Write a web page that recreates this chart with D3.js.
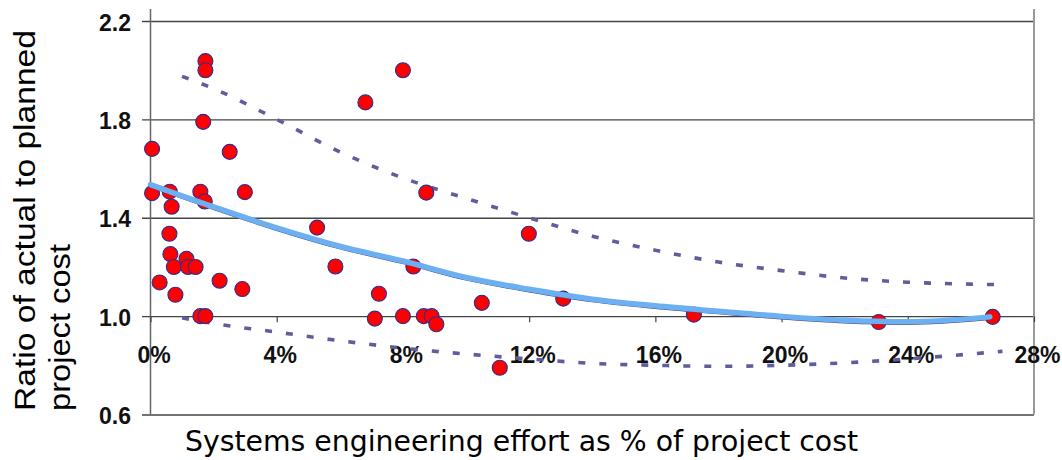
<!DOCTYPE html>
<html>
<head>
<meta charset="utf-8">
<script src="https://cdn.jsdelivr.net/npm/d3@7"></script>
<style>
  html, body { margin: 0; padding: 0; background: #fff; }
  svg { display: block; }
</style>
</head>
<body>
<svg id="chart" width="1062" height="460"></svg>
<script>
// Project samples: systems engineering effort (% of cost) vs. actual/planned cost ratio
const seEffort = [0.05, 0.05, 0.61, 1.58, 1.72, 2.99, 0.67, 0.60, 0.63, 1.14, 0.74, 1.19, 1.43, 0.29,
  2.19, 2.91, 0.79, 1.58, 1.74, 1.74, 1.74, 1.67, 2.51, 5.28, 5.86, 6.81, 8.0, 8.74, 11.99, 8.33,
  7.24, 10.5, 13.08, 7.11, 8.0, 8.66, 8.91, 9.06, 11.07, 17.22, 23.08, 26.69];
const costRatio = [1.68, 1.50, 1.506, 1.506, 1.466, 1.504, 1.445, 1.335, 1.252, 1.233, 1.20, 1.20, 1.20, 1.137,
  1.144, 1.11, 1.087, 1.0, 1.0, 2.037, 2.0, 1.79, 1.668, 1.36, 1.202, 1.869, 2.0, 1.502, 1.335, 1.202,
  1.091, 1.054, 1.071, 0.99, 1.0, 1.0, 1.0, 0.967, 0.79, 1.006, 0.976, 0.997];

// Fitted trend
const trendX = [0, 2, 4, 6, 8, 10, 12, 14, 16, 18, 20, 22, 24, 26.6];
const trendY = [1.535, 1.444, 1.359, 1.284, 1.224, 1.157, 1.109, 1.069, 1.042, 1.02, 0.999, 0.983, 0.977, 0.997];

// Upper and lower bounds
const upperX = [1, 2, 4, 6, 8, 10, 12, 14, 16, 18, 20, 22, 24, 26, 27];
const upperY = [1.975, 1.925, 1.80, 1.668, 1.562, 1.479, 1.40, 1.325, 1.268, 1.22, 1.185, 1.155, 1.138, 1.13, 1.128];
const lowerX = [1, 2, 4, 6, 8, 10, 12, 14, 16, 18, 20, 22, 24, 26, 27];
const lowerY = [0.993, 0.97, 0.935, 0.90, 0.87, 0.846, 0.826, 0.808, 0.80, 0.796, 0.80, 0.81, 0.826, 0.846, 0.857];

const xTicks = [0, 4, 8, 12, 16, 20, 24, 28];
const yTicks = [0.6, 1.0, 1.4, 1.8, 2.2];

const xTitle = "Systems engineering effort as % of project cost";
const yTitleLines = ["Ratio of actual to planned", "project cost"];

const svg = d3.select("#chart");
const x = d3.scaleLinear().domain([0, 28]).range([150.5, 1034]);
const y = d3.scaleLinear().domain([0.6, 2.2]).range([414.5, 21]);

const tickFont = "'Liberation Sans', Arial, sans-serif";

// Horizontal gridlines with short outer ticks and value labels
const yAxis = svg.append("g")
  .attr("transform", "translate(142,0)")
  .call(d3.axisLeft(y).tickValues(yTicks).tickFormat(d3.format(".1f"))
    .tickSizeInner(-(x.range()[1] - 142)).tickSizeOuter(0).tickPadding(11));
yAxis.select(".domain").remove();
yAxis.selectAll(".tick line").attr("stroke", "#444").attr("stroke-width", 1.4);
yAxis.selectAll(".tick text")
  .attr("font-family", tickFont).attr("font-weight", "bold")
  .attr("font-size", 23).attr("fill", "#111").attr("dy", "0.4em");

// Left axis line and right border
svg.append("line").attr("x1", x(0)).attr("x2", x(0)).attr("y1", 9).attr("y2", y(0.6))
  .attr("stroke", "#666").attr("stroke-width", 1.5);
svg.append("line").attr("x1", x(28)).attr("x2", x(28)).attr("y1", 9).attr("y2", y(0.6))
  .attr("stroke", "#999").attr("stroke-width", 2);

// X axis crossing at 1.0
const xAxis = svg.append("g")
  .attr("transform", `translate(0,${y(1.0)})`)
  .call(d3.axisBottom(x).tickValues(xTicks).tickFormat(d => d + "%")
    .tickSizeInner(6).tickSizeOuter(0).tickPadding(25));
xAxis.select(".domain").remove();
xAxis.selectAll(".tick line").attr("stroke", "#444").attr("stroke-width", 1.2);
xAxis.selectAll(".tick text")
  .attr("font-family", tickFont).attr("font-weight", "bold")
  .attr("font-size", 23).attr("fill", "#111").attr("dx", 3);

// Dashed bound curves
const line = d3.line().x(d => x(d[0])).y(d => y(d[1])).curve(d3.curveMonotoneX);
const bounds = [d3.zip(upperX, upperY), d3.zip(lowerX, lowerY)];
svg.append("g").selectAll("path").data(bounds).join("path")
  .attr("d", line)
  .attr("fill", "none")
  .attr("stroke", "#5e5e9a")
  .attr("stroke-width", 3.6)
  .attr("stroke-dasharray", "7,14");

// Sample points
svg.append("g").selectAll("circle").data(d3.zip(seEffort, costRatio)).join("circle")
  .attr("cx", d => x(d[0]))
  .attr("cy", d => y(d[1]))
  .attr("r", 7.5)
  .attr("fill", "#ff0000")
  .attr("stroke", "#2e2e90")
  .attr("stroke-width", 1.1);

// Trend line: dark fit with light blue overlay
const trend = d3.zip(trendX, trendY);
svg.append("path").datum(trend)
  .attr("d", line).attr("fill", "none")
  .attr("stroke", "#454585").attr("stroke-width", 2.2)
  .attr("transform", "translate(0,2)");
svg.append("path").datum(trend)
  .attr("d", line).attr("fill", "none")
  .attr("stroke", "#6cb0f2").attr("stroke-width", 5.5)
  .attr("stroke-linecap", "round");

// Axis titles
svg.append("text")
  .attr("x", 185).attr("y", 451)
  .attr("font-family", "'DejaVu Sans', Tahoma, sans-serif")
  .attr("font-size", 27.5).attr("fill", "#000")
  .attr("textLength", 673).attr("lengthAdjust", "spacingAndGlyphs")
  .text(xTitle);

const yTitle = svg.append("g").attr("transform", "translate(0,411) rotate(-90)");
const yTitleLengths = [381, 167];
yTitle.selectAll("text").data(yTitleLines).join("text")
  .attr("x", 0)
  .attr("y", (d, i) => 35 + i * 35)
  .attr("font-family", "'Liberation Sans', Arial, sans-serif")
  .attr("font-size", 30).attr("fill", "#000")
  .attr("textLength", (d, i) => yTitleLengths[i]).attr("lengthAdjust", "spacingAndGlyphs")
  .text(d => d);
</script>
</body>
</html>
